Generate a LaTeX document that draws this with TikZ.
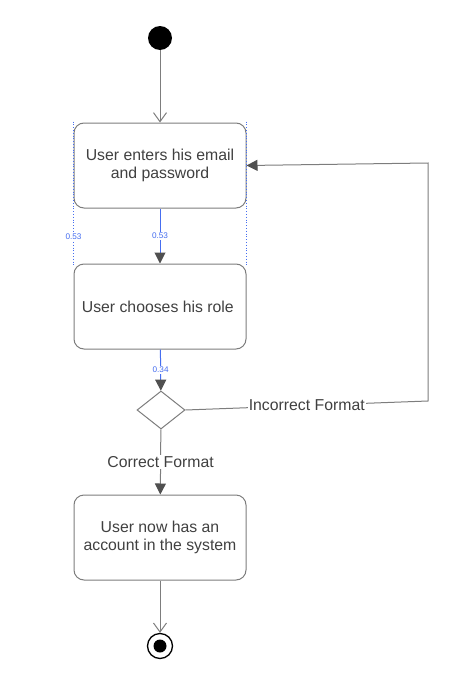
\documentclass[tikz,border=0pt]{standalone}
\usepackage{fontspec}
\setmainfont{Liberation Sans}
\usepackage{xcolor}
\usetikzlibrary{arrows.meta,shapes.geometric}
\definecolor{txtgray}{RGB}{64,64,64}
\definecolor{linegray}{RGB}{125,125,125}
\definecolor{headgray}{RGB}{80,80,80}
\definecolor{guideblue}{RGB}{70,110,240}
\newcommand{\actfont}{\fontsize{15.8}{17.5}\selectfont}
\newcommand{\wgtfont}{\fontsize{8.2}{9}\selectfont}

\begin{document}
\begin{tikzpicture}[ x = 1pt, y = -1pt,
                     every node/.style={text=txtgray,font=\actfont},
                     state/.style={rounded corners=10pt,draw=linegray,line width=1pt,
                                   minimum width=172pt,minimum height=85pt,
                                   inner sep=0pt,align=center},
                     flow/.style={draw=linegray,line width=1pt},
                     guide/.style={draw=guideblue,dotted,line width=0.8pt},
                     wgt/.style={fill=white,inner sep=1pt,text=guideblue,font=\wgtfont},
                   ]
 \useasboundingbox (0,0) rectangle (476,680);

 \draw (160,38)    node[circle,fill=black,minimum size=24pt,inner sep=0pt] (S) {};

 \draw (160,165.5) node[state] (A)
              {User enters his email\\and password
              };

 \draw (160,306.5) node[state] (B)
              {User chooses his role
              };

 \draw (161,410)   node[diamond,draw=linegray,line width=1pt,
                        minimum width=48pt,minimum height=38pt,inner sep=0pt] (D) {};

 \draw (160,537.5) node[state] (C)
              {User now has an\\account in the system
              };

 \draw (160,646)   node[circle,draw=black,line width=1.3pt,minimum size=25pt,inner sep=0pt] (E) {};
 \draw (160,646)   node[circle,fill=black,minimum size=13pt,inner sep=0pt] (Ei) {};

 \coordinate (R1) at (428,401);
 \coordinate (R2) at (428,163);

 % guides
 \draw[guide] ([yshift=1pt]A.north west) -- ([yshift=-2pt]B.north west)
    node[pos=0.8,wgt] {0.53};
 \draw[guide] ([yshift=1pt]A.north east) -- ([yshift=-2pt]B.north east);

 % transitions
 \draw[flow,-{Straight Barb[length=9pt,width=13pt]}] (S) -- (A);
 \draw[draw=guideblue,line width=1pt,-{Triangle[length=11pt,width=11pt,color=headgray]}] (A) -- (B)
    node[midway,wgt] {0.53};
 \draw[draw=guideblue,line width=1pt,-{Triangle[length=11pt,width=11pt,color=headgray]}] (B) -- (D)
    node[midway,wgt] {0.34};
 \draw[flow,-{Triangle[length=11pt,width=11pt,color=headgray]}] (D.east)
    -- node[fill=white,inner sep=1pt] {Incorrect Format} (R1) -- (R2) -- (A.east);
 \draw[flow,-{Triangle[length=11pt,width=11pt,color=headgray]}] (D) -- (C)
    node[midway,fill=white,inner sep=1pt] {Correct Format};
 \draw[flow,-{Straight Barb[length=9pt,width=13pt]}] (C) -- (E);

\end{tikzpicture}
\end{document}
